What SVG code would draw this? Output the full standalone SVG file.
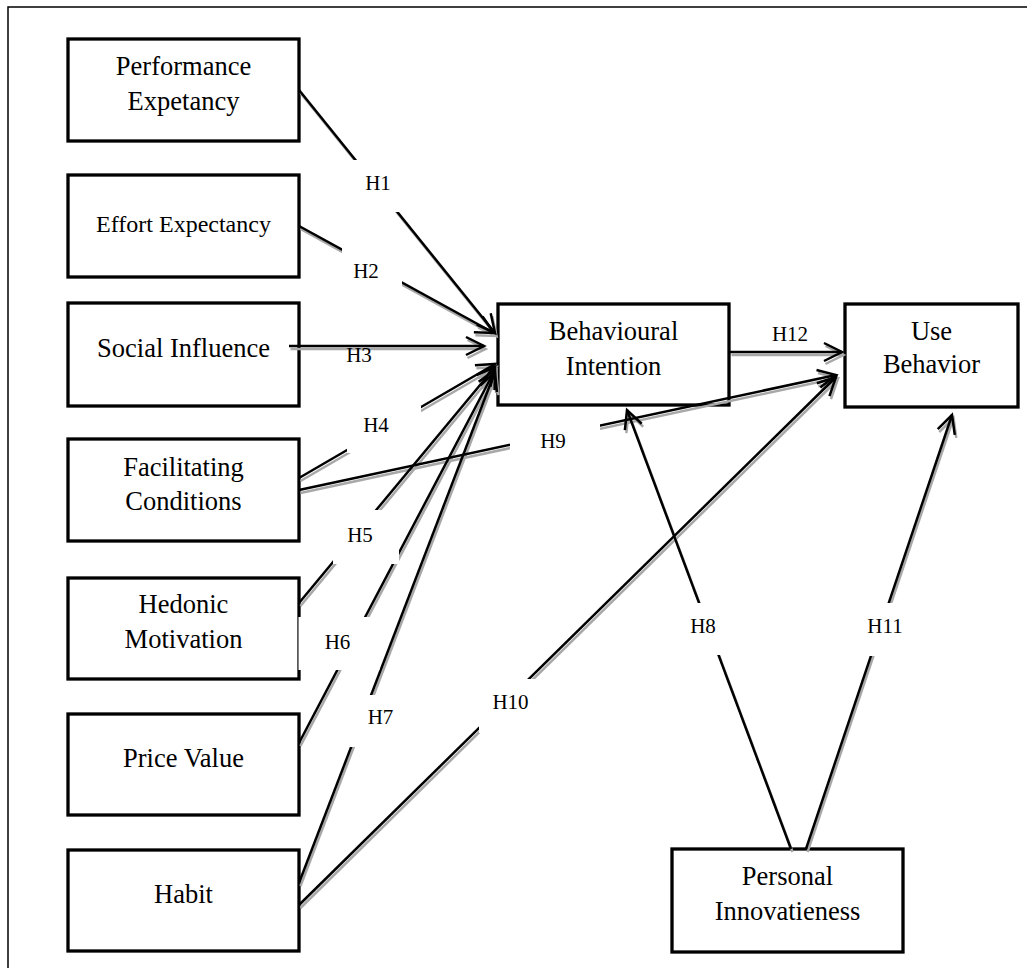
<svg xmlns="http://www.w3.org/2000/svg" width="1027" height="968" viewBox="0 0 1027 968">
<style>
.box{fill:#fff;stroke:#000;stroke-width:3.3}
.t{font-family:"Liberation Serif","Times New Roman",serif;font-size:26.5px;text-anchor:middle;fill:#000}
.h{font-family:"Liberation Serif","Times New Roman",serif;font-size:21px;text-anchor:middle;fill:#000}
.ln{fill:none;stroke:#000;stroke-width:2.5;marker-end:url(#arrB)}
.sh{fill:none;stroke:#a8a8a8;stroke-width:2.5;marker-end:url(#arrG)}
.mask{fill:#fff;stroke:none}
</style>
<defs>
<marker id="arrB" markerUnits="userSpaceOnUse" viewBox="-20 -12 24 24" refX="0" refY="0" markerWidth="24" markerHeight="24" orient="auto" overflow="visible">
<path d="M-18,-9 L0,0 L-18,9" fill="none" stroke="#000" stroke-width="2.5"/>
</marker>
<marker id="arrG" markerUnits="userSpaceOnUse" viewBox="-20 -12 24 24" refX="0" refY="0" markerWidth="24" markerHeight="24" orient="auto" overflow="visible">
<path d="M-18,-9 L0,0 L-18,9" fill="none" stroke="#a8a8a8" stroke-width="2.5"/>
</marker>
</defs>
<rect x="0" y="0" width="1027" height="968" fill="#fff"/>
<rect x="8" y="7" width="1100" height="1100" fill="none" stroke="#000" stroke-width="1.5"/>

<g id="pe"><rect class="box" x="68" y="39" width="231" height="102"/><text class="t" x="183.5" y="75">Performance</text><text class="t" x="183.5" y="110">Expetancy</text></g>
<g id="ee"><rect class="box" x="68" y="175" width="231" height="102"/><text class="t" x="183.5" y="232" style="font-size:24px">Effort Expectancy</text></g>
<g id="si"><rect class="box" x="68" y="303" width="231" height="103"/><text class="t" x="183.5" y="357">Social Influence</text></g>
<g id="fc"><rect class="box" x="68" y="439" width="231" height="102"/><text class="t" x="183.5" y="476">Facilitating</text><text class="t" x="183.5" y="510">Conditions</text></g>
<g id="hm"><rect class="box" x="68" y="578" width="231" height="101"/><text class="t" x="183.5" y="613">Hedonic</text><text class="t" x="183.5" y="648">Motivation</text></g>
<g id="pv"><rect class="box" x="68" y="714" width="231" height="101"/><text class="t" x="183.5" y="767">Price Value</text></g>
<g id="hb"><rect class="box" x="68" y="850" width="231" height="101"/><text class="t" x="183.5" y="903">Habit</text></g>
<g id="bi"><rect class="box" x="498" y="304" width="231" height="101"/><text class="t" x="613.5" y="340">Behavioural</text><text class="t" x="613.5" y="375">Intention</text></g>
<g id="ub"><rect class="box" x="845" y="304" width="173" height="103"/><text class="t" x="931.5" y="340">Use</text><text class="t" x="931.5" y="373">Behavior</text></g>
<g id="pi"><rect class="box" x="672" y="849" width="231" height="103"/><text class="t" x="787.5" y="885">Personal</text><text class="t" x="787.5" y="920">Innovatieness</text></g>

<g id="connectors">
<g transform="translate(1.5,3)">
<path class="sh" d="M299,90 L495,333"/>
<path class="sh" d="M299,226 L494,333"/>
<path class="sh" d="M289,346 L484,346"/>
<path class="sh" d="M299,478 L495,364"/>
<path class="sh" d="M299,603 L495,367"/>
<path class="sh" d="M299,743 L495,370"/>
<path class="sh" d="M299,883 L495,372"/>
<path class="sh" d="M299,490 L836,375"/>
<path class="sh" d="M299,905 L836,377"/>
<path class="sh" d="M730,352 L842,352"/>
<path class="sh" d="M791,849 L627,410"/>
<path class="sh" d="M806,849 L952,415"/>
</g>
<path class="ln" d="M299,90 L495,333"/>
<path class="ln" d="M299,226 L494,333"/>
<path class="ln" d="M289,346 L484,346"/>
<path class="ln" d="M299,478 L495,364"/>
<path class="ln" d="M299,603 L495,367"/>
<path class="ln" d="M299,743 L495,370"/>
<path class="ln" d="M299,883 L495,372"/>
<path class="ln" d="M299,490 L836,375"/>
<path class="ln" d="M299,905 L836,377"/>
<path class="ln" d="M730,352 L842,352"/>
<path class="ln" d="M791,849 L627,410"/>
<path class="ln" d="M806,849 L952,415"/>
</g>

<g id="labels">
<rect class="mask" x="348" y="160" width="60" height="52"/><text class="h" x="378" y="190">H1</text>
<rect class="mask" x="342" y="246" width="60" height="52"/><text class="h" x="366" y="278">H2</text>
<text class="h" x="359" y="362">H3</text>
<rect class="mask" x="347" y="406" width="74" height="47"/><text class="h" x="376" y="432">H4</text>
<rect class="mask" x="333" y="510" width="66" height="54"/><text class="h" x="360" y="542">H5</text>
<rect class="mask" x="298.5" y="617" width="81" height="53"/><text class="h" x="337.5" y="649">H6</text>
<rect class="mask" x="345" y="695" width="68" height="52"/><text class="h" x="380.5" y="724">H7</text>
<rect class="mask" x="510" y="420" width="90" height="48"/><text class="h" x="553" y="448">H9</text>
<rect class="mask" x="479" y="679" width="66" height="54"/><text class="h" x="510.5" y="709">H10</text>
<rect class="mask" x="674" y="603" width="60" height="52"/><text class="h" x="703" y="633">H8</text>
<rect class="mask" x="857" y="603" width="58" height="53"/><text class="h" x="885" y="633">H11</text>
<text class="h" x="790" y="341">H12</text>
</g>
</svg>
